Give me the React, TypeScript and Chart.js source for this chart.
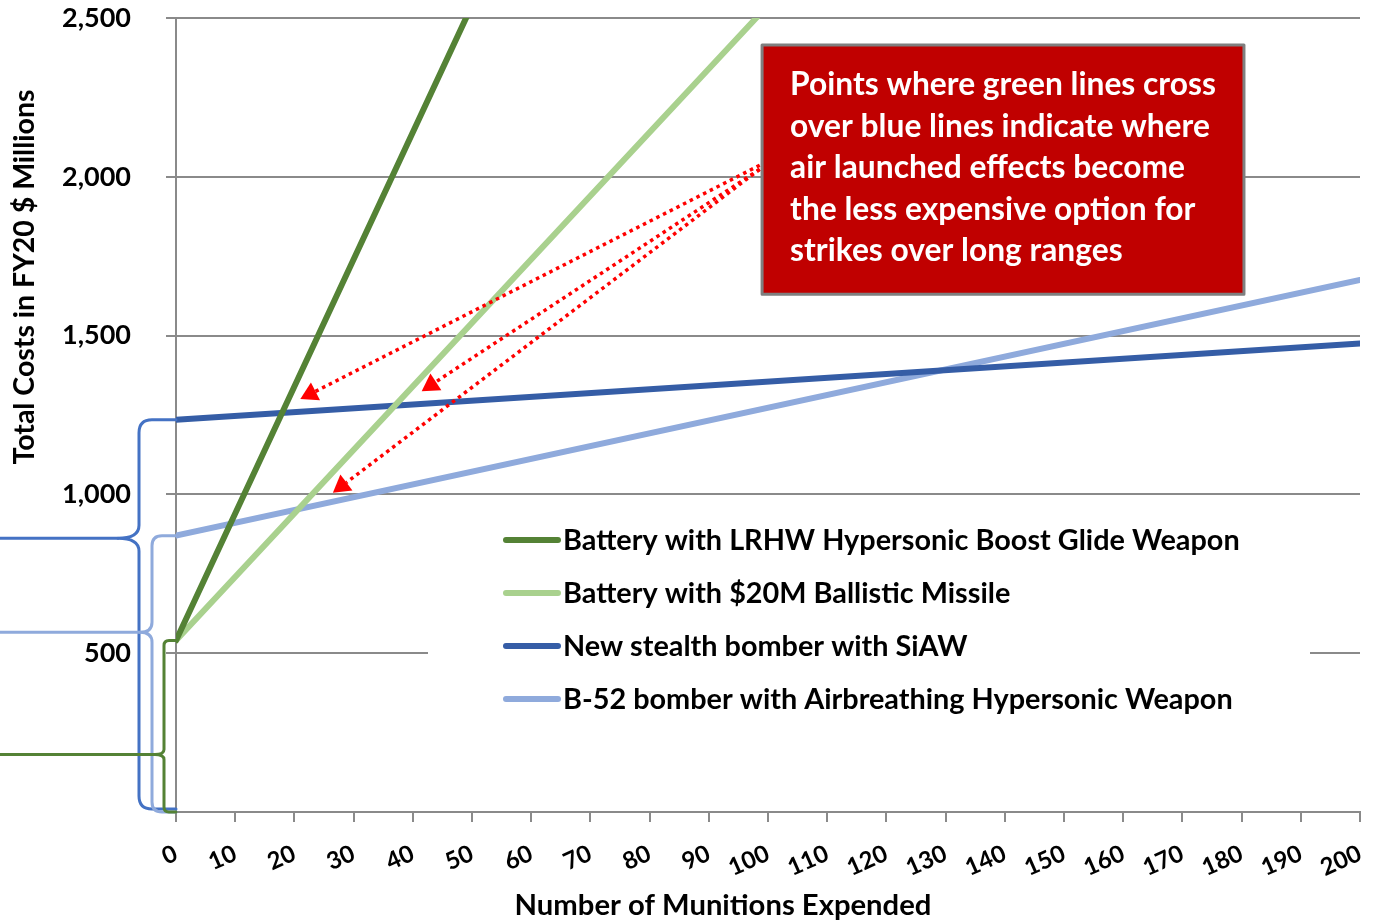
import React, { useEffect, useRef } from 'react';
import { Chart, registerables } from 'chart.js';

Chart.register(...registerables);

// ---------- data ----------
const seriesLabels = [
  'Battery with LRHW Hypersonic Boost Glide Weapon',
  'Battery with $20M Ballistic Missile',
  'New stealth bomber with SiAW',
  'B-52 bomber with Airbreathing Hypersonic Weapon',
];
const lrhwX = [0, 50];
const lrhwY = [540, 2540];
const ballisticX = [0, 100];
const ballisticY = [540, 2540];
const stealthX = [0, 200];
const stealthY = [1235, 1475];
const b52X = [0, 200];
const b52Y = [870, 1675];

// brace tips (fixed-cost call-outs), value units
const braceTipStealth = 862;
const braceTipB52 = 566;
const braceTipBattery = 181;

const noteLines = [
  'Points where green lines cross',
  'over blue lines indicate where',
  'air launched effects become',
  'the less expensive option for',
  'strikes over long ranges',
];
// note box in data units: [xLeft, xRight, yTop, yBottom]
const noteBox = [99, 180.4, 2415, 1630];
const arrowStart = [98.6, 2030];
const arrowEndsX = [21, 41.5, 26.5];
const arrowEndsY = [1300, 1325, 1005];

const yTitle = 'Total Costs in FY20 $ Millions';
const xTitle = 'Number of Munitions Expended';

// ---------- styles ----------
const colors = ['#548235', '#A9D18E', '#355DA6', '#8FAADC'];
const braceColors = ['#4472C4', '#8FAADC', '#548235'];
const gridColor = '#8A8A8A';
const FONT = 'Lato, "Open Sans", sans-serif';

function toPts(xs: number[], ys: number[]) {
  return xs.map((x, i) => ({ x, y: ys[i] }));
}

function fitFont(ctx: CanvasRenderingContext2D, text: string, weight: string, target: number) {
  ctx.font = `${weight} 100px ${FONT}`;
  const w = ctx.measureText(text).width;
  return (100 * target) / w;
}

function drawBrace(
  ctx: CanvasRenderingContext2D,
  axisX: number,
  xv: number,
  yTop: number,
  yTip: number,
  yBot: number,
  r: number,
  tipOff: number,
  color: string
) {
  ctx.strokeStyle = color;
  ctx.lineWidth = 3;
  ctx.lineCap = 'round';
  ctx.lineJoin = 'round';
  ctx.beginPath();
  ctx.moveTo(axisX, yTop);
  ctx.lineTo(xv + r, yTop);
  ctx.quadraticCurveTo(xv, yTop, xv, yTop + r);
  ctx.lineTo(xv, yTip - r);
  ctx.quadraticCurveTo(xv, yTip, xv - tipOff, yTip);
  ctx.quadraticCurveTo(xv, yTip, xv, yTip + r);
  ctx.lineTo(xv, yBot - r);
  ctx.quadraticCurveTo(xv, yBot, xv + r, yBot);
  ctx.lineTo(axisX, yBot);
  ctx.stroke();
  ctx.beginPath();
  ctx.moveTo(xv - tipOff, yTip);
  ctx.lineTo(0, yTip);
  ctx.stroke();
}

function drawArrow(ctx: CanvasRenderingContext2D, x0: number, y0: number, x1: number, y1: number) {
  const ang = Math.atan2(y1 - y0, x1 - x0);
  const headLen = 17;
  const headW = 10;
  const bx = x1 - headLen * Math.cos(ang);
  const by = y1 - headLen * Math.sin(ang);
  ctx.strokeStyle = '#FF0000';
  ctx.lineWidth = 3.5;
  ctx.lineCap = 'butt';
  ctx.setLineDash([3.5, 4]);
  ctx.beginPath();
  ctx.moveTo(x0, y0);
  ctx.lineTo(bx, by);
  ctx.stroke();
  ctx.setLineDash([]);
  ctx.fillStyle = '#FF0000';
  ctx.beginPath();
  ctx.moveTo(x1, y1);
  ctx.lineTo(bx + headW * Math.sin(ang), by - headW * Math.cos(ang));
  ctx.lineTo(bx - headW * Math.sin(ang), by + headW * Math.cos(ang));
  ctx.closePath();
  ctx.fill();
}

const overlay = {
  id: 'overlay',
  afterDraw(chart: any) {
    const { ctx, chartArea: ca, scales } = chart;
    const xs = scales.x;
    const ys = scales.y;
    ctx.save();

    // braces on the left
    const yZero = ys.getPixelForValue(0);
    drawBrace(ctx, ca.left, 139, ys.getPixelForValue(stealthY[0]), ys.getPixelForValue(braceTipStealth), yZero - 3, 13, 21, braceColors[0]);
    drawBrace(ctx, ca.left, 152, ys.getPixelForValue(b52Y[0]), ys.getPixelForValue(braceTipB52), yZero, 10, 12, braceColors[1]);
    drawBrace(ctx, ca.left, 164, ys.getPixelForValue(lrhwY[0]), ys.getPixelForValue(braceTipBattery), yZero, 5, 9, braceColors[2]);

    // legend
    const lgL = ca.left + 252;
    const lgT = ca.top + 487;
    ctx.fillStyle = '#FFFFFF';
    ctx.fillRect(lgL, lgT, 882, 220);
    const legSize = fitFont(ctx, seriesLabels[0], 'bold', 677);
    ctx.font = `bold ${legSize}px ${FONT}`;
    ctx.textBaseline = 'middle';
    ctx.textAlign = 'left';
    seriesLabels.forEach((lab, i) => {
      const yy = lgT + 35 + i * 53;
      ctx.strokeStyle = colors[i];
      ctx.lineWidth = 6;
      ctx.lineCap = 'round';
      ctx.beginPath();
      ctx.moveTo(lgL + 78, yy);
      ctx.lineTo(lgL + 130, yy);
      ctx.stroke();
      ctx.fillStyle = '#000';
      ctx.fillText(lab, lgL + 135, yy + 1);
    });

    // arrows
    const ax0 = xs.getPixelForValue(arrowStart[0]);
    const ay0 = ys.getPixelForValue(arrowStart[1]);
    arrowEndsX.forEach((ex, i) => {
      drawArrow(ctx, ax0, ay0 + (i === 0 ? -2 : 2), xs.getPixelForValue(ex), ys.getPixelForValue(arrowEndsY[i]));
    });

    // note box
    const bl = xs.getPixelForValue(noteBox[0]);
    const br = xs.getPixelForValue(noteBox[1]);
    const bt = ys.getPixelForValue(noteBox[2]);
    const bb = ys.getPixelForValue(noteBox[3]);
    ctx.fillStyle = '#C00000';
    ctx.fillRect(bl, bt, br - bl, bb - bt);
    ctx.strokeStyle = '#7F7F7F';
    ctx.lineWidth = 3;
    ctx.strokeRect(bl, bt, br - bl, bb - bt);
    const noteSize = fitFont(ctx, noteLines[0], 'bold', 426);
    ctx.font = `bold ${noteSize}px ${FONT}`;
    ctx.fillStyle = '#FFFFFF';
    ctx.textAlign = 'left';
    ctx.textBaseline = 'middle';
    noteLines.forEach((t, i) => {
      ctx.fillText(t, bl + 28, bt + 40 + i * 41.5);
    });

    // axis titles
    ctx.fillStyle = '#000';
    const ytSize = fitFont(ctx, yTitle, 'bold', 375);
    ctx.font = `bold ${ytSize}px ${FONT}`;
    ctx.textAlign = 'center';
    ctx.textBaseline = 'middle';
    ctx.save();
    ctx.translate(25, 277);
    ctx.rotate(-Math.PI / 2);
    ctx.fillText(yTitle, 0, 0);
    ctx.restore();
    const xtSize = fitFont(ctx, xTitle, 'bold', 417);
    ctx.font = `bold ${xtSize}px ${FONT}`;
    ctx.fillText(xTitle, 723, 906);

    ctx.restore();
  },
};

export default function App() {
  const ref = useRef<HTMLCanvasElement>(null);
  useEffect(() => {
    document.body.style.margin = '0';
    const chart = new Chart(ref.current as HTMLCanvasElement, {
      type: 'line',
      data: {
        datasets: [
          { label: seriesLabels[0], data: toPts(lrhwX, lrhwY), borderColor: colors[0] },
          { label: seriesLabels[1], data: toPts(ballisticX, ballisticY), borderColor: colors[1] },
          { label: seriesLabels[2], data: toPts(stealthX, stealthY), borderColor: colors[2] },
          { label: seriesLabels[3], data: toPts(b52X, b52Y), borderColor: colors[3] },
        ],
      },
      options: {
        responsive: false,
        animation: false,
        devicePixelRatio: 1,
        layout: { padding: { left: 0, right: 16, top: 18, bottom: 0 } },
        plugins: { legend: { display: false }, tooltip: { enabled: false } },
        elements: {
          point: { radius: 0 },
          line: { borderWidth: 6, tension: 0, borderCapStyle: 'round' },
        },
        scales: {
          x: {
            type: 'linear',
            min: 0,
            max: 200,
            ticks: {
              stepSize: 10,
              autoSkip: false,
              minRotation: 24,
              maxRotation: 24,
              padding: 17,
              color: '#000',
              font: { family: FONT, size: 24, weight: 'bold' },
            },
            grid: { drawOnChartArea: false, color: gridColor, lineWidth: 2, tickLength: 10 },
            border: { color: gridColor, width: 2 },
            afterFit: (s: any) => {
              s.height = 108;
              s.paddingLeft = 0;
              s.paddingRight = 0;
            },
          },
          y: {
            min: 0,
            max: 2500,
            ticks: {
              stepSize: 500,
              padding: 35,
              color: '#000',
              font: { family: FONT, size: 27, weight: 'bold' },
              callback: (v: any) => (v === 0 ? '' : Number(v).toLocaleString('en-US')),
            },
            grid: { color: gridColor, lineWidth: 2, tickLength: 10 },
            border: { color: gridColor, width: 2 },
            afterFit: (s: any) => {
              s.width = 176;
              s.paddingTop = 0;
              s.paddingBottom = 0;
            },
          },
        },
      } as any,
      plugins: [overlay],
    });
    return () => chart.destroy();
  }, []);
  return (
    <div style={{ width: 1376, height: 920 }}>
      <canvas ref={ref} width={1376} height={920} />
    </div>
  );
}
